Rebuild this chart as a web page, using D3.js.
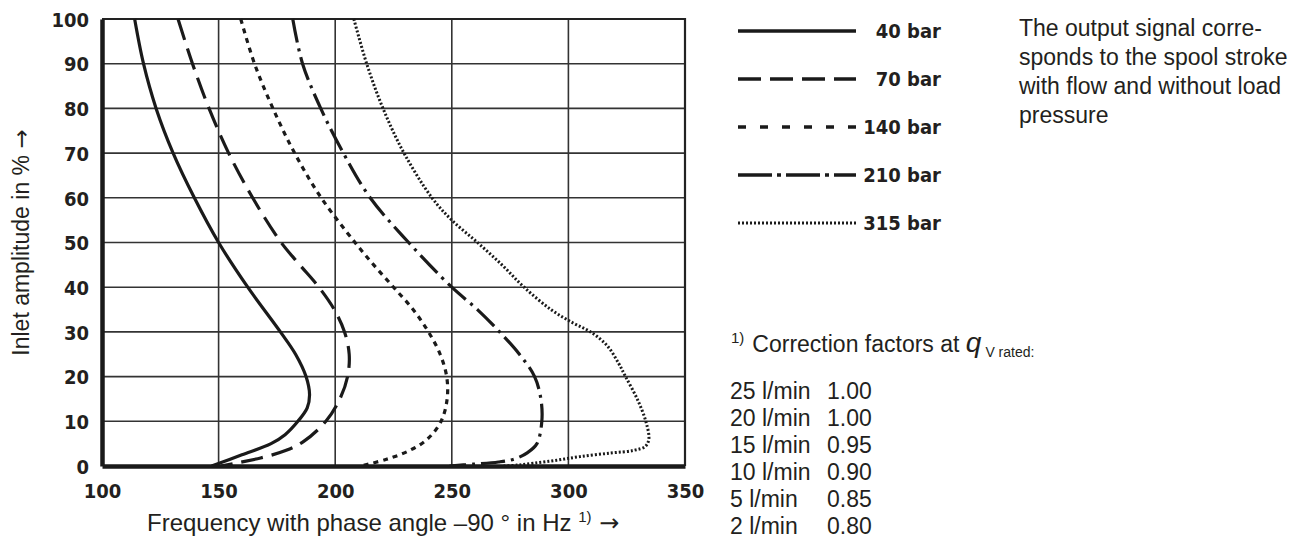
<!DOCTYPE html>
<html>
<head>
<meta charset="utf-8">
<script src="https://cdn.jsdelivr.net/npm/d3@7"></script>
<style>
  html, body { margin: 0; padding: 0; background: #fff; }
  svg { display: block; }
  .tick-lbl { font-family: "DejaVu Sans Condensed", "DejaVu Sans", sans-serif; font-weight: bold; font-stretch: condensed; font-size: 20px; fill: #231f20; }
  .txt { font-family: "Liberation Sans", Arial, Helvetica, sans-serif; font-size: 23px; fill: #231f20; }
  .arrow { font-family: "DejaVu Sans", sans-serif; }
</style>
</head>
<body>
<div id="chart"></div>
<script>
// Achsen
const xTicks = [100, 150, 200, 250, 300, 350];
const yTicks = [0, 10, 20, 30, 40, 50, 60, 70, 80, 90, 100];

// Kurven: [Frequenz Hz, Amplitude %], von oben nach unten
const seriesNames = ["40 bar", "70 bar", "140 bar", "210 bar", "315 bar"];

const bar40 = [
    [114, 100], [117.8, 90], [123.2, 80], [130.5, 70], [139.6, 60], [150, 50],
    [162.5, 40], [176.5, 30], [183, 25], [187.5, 20], [189, 16], [188, 13],
    [184, 10], [178.5, 7], [172.5, 5], [160, 2.5], [147, 0]
];
const bar70 = [
    [132.6, 100], [138.8, 90], [145.9, 80], [154.3, 70], [164.6, 60], [176.8, 50],
    [184.8, 45], [193, 40], [199.6, 35], [204, 30], [206, 25], [205.3, 20],
    [202, 15], [196, 10], [186.5, 5.5], [179, 3.5], [168, 1.8], [158, 0.7], [151, 0]
];
const bar140 = [
    [159.5, 100], [165.4, 90], [173.3, 80], [182.6, 70], [194, 60], [208.5, 50],
    [216.5, 45], [225, 40], [233.4, 35], [240, 30], [245, 25], [247.8, 20],
    [248, 15], [245.4, 10], [239.5, 6], [232, 3.5], [222, 1.5], [211, 0]
];
const bar210 = [
    [181.8, 100], [186, 90], [193.8, 80], [203.5, 70], [215, 60], [231.5, 50],
    [250, 40], [261, 35], [270.5, 30], [279, 25], [285.5, 20], [288.2, 15],
    [288.6, 10], [286.5, 5], [282.5, 3], [277, 1.6], [270, 0.9], [259, 0.4], [249, 0]
];
const bar315 = [
    [208, 100], [213.5, 90], [220.5, 80], [229.5, 70], [241.5, 60], [250, 55],
    [261, 50], [271.5, 45], [281, 40], [292.5, 35], [302, 32], [309.5, 30],
    [316.5, 27], [321.5, 23], [324.5, 20], [329.5, 15], [333.2, 10], [334.5, 6],
    [333, 4.4], [328, 3.5], [318, 2.9], [305, 2.1], [295, 1.3], [285, 0.6],
    [278, 0.2], [272, 0]
];
const seriesData = [bar40, bar70, bar140, bar210, bar315];

// Strichmuster (Diagramm / Legende)
const plotDash = ["none", "22,9", "5,5", "24,6,3,6", "2,2"];
const legendDash = ["none", "23,9", "8,14", "34,5,4,5", "2,2"];

// Texte
const noteLines = [
    "The output signal corre-",
    "sponds to the spool stroke",
    "with flow and without load",
    "pressure"
];
const flowLabels = ["25 l/min", "20 l/min", "15 l/min", "10 l/min", "5 l/min", "2 l/min"];
const corrFactors = ["1.00", "1.00", "0.95", "0.90", "0.85", "0.80"];

const width = 1313, height = 541;
const plot = { left: 102, top: 19, right: 685, bottom: 466 };

const svg = d3.select("#chart").append("svg")
    .attr("width", width)
    .attr("height", height);

const x = d3.scaleLinear().domain([100, 350]).range([plot.left, plot.right]);
const y = d3.scaleLinear().domain([0, 100]).range([plot.bottom, plot.top]);

// Gitter
const grid = svg.append("g").attr("stroke", "#333").attr("stroke-width", 1.6);
grid.selectAll(".vg")
    .data(xTicks.slice(1, -1))
    .enter().append("line")
    .attr("x1", d => x(d)).attr("x2", d => x(d))
    .attr("y1", plot.top).attr("y2", plot.bottom);
grid.selectAll(".hg")
    .data(yTicks.slice(1, -1))
    .enter().append("line")
    .attr("x1", plot.left).attr("x2", plot.right)
    .attr("y1", d => y(d)).attr("y2", d => y(d));

// Rahmen oben / rechts
svg.append("path")
    .attr("d", `M${plot.left},${plot.top}H${plot.right}V${plot.bottom}`)
    .attr("fill", "none")
    .attr("stroke", "#222")
    .attr("stroke-width", 2.2);

// Kurven
svg.append("clipPath").attr("id", "clip")
    .append("rect")
    .attr("x", plot.left).attr("y", plot.top - 2)
    .attr("width", plot.right - plot.left).attr("height", plot.bottom - plot.top + 2);

const line = d3.line()
    .x(d => x(d[0]))
    .y(d => y(d[1]))
    .curve(d3.curveCatmullRom.alpha(0.5));

svg.append("g")
    .attr("clip-path", "url(#clip)")
    .selectAll(".curve")
    .data(seriesData)
    .enter().append("path")
    .attr("class", "curve")
    .attr("fill", "none")
    .attr("stroke", "#1a1a1a")
    .attr("stroke-width", (d, i) => i === 4 ? 3 : 3.2)
    .attr("stroke-dasharray", (d, i) => plotDash[i])
    .attr("d", line);

// Achsen (links / unten dick)
const xAxis = svg.append("g")
    .attr("transform", `translate(0,${plot.bottom})`)
    .call(d3.axisBottom(x).tickValues(xTicks).tickSize(0).tickPadding(14));
const yAxis = svg.append("g")
    .attr("transform", `translate(${plot.left},0)`)
    .call(d3.axisLeft(y).tickValues(yTicks).tickSize(0).tickPadding(13));

[xAxis, yAxis].forEach(a => {
    a.attr("font-family", null).attr("font-size", null);
    a.select(".domain").attr("stroke", "#1a1a1a").attr("stroke-width", 4.5);
    a.selectAll("text").attr("class", "tick-lbl");
});
xAxis.selectAll("text").attr("dy", "0.9em");
yAxis.selectAll("text").attr("dy", "0.36em");

// Achsentitel
const xt = svg.append("text").attr("class", "txt")
    .attr("x", 147).attr("y", 531)
    .style("font-size", "24px");
xt.append("tspan").text("Frequency with phase angle \u201390 \u00b0 in Hz ");
xt.append("tspan").attr("dy", -9).style("font-size", "15px").text("1)");
xt.append("tspan").attr("dy", 9).attr("class", "arrow").text(" \u2192");

const yt = svg.append("text").attr("class", "txt")
    .attr("transform", `translate(29,${(plot.top + plot.bottom) / 2}) rotate(-90)`)
    .attr("text-anchor", "middle");
yt.append("tspan").text("Inlet amplitude in % ");
yt.append("tspan").attr("class", "arrow").text("\u2192");

// Legende
const legend = svg.append("g");
const legRow = d3.scaleLinear().domain([0, 4]).range([31, 223]);
seriesNames.forEach((name, i) => {
    legend.append("line")
        .attr("x1", 738).attr("x2", 856)
        .attr("y1", legRow(i)).attr("y2", legRow(i))
        .attr("stroke", "#1a1a1a")
        .attr("stroke-width", i === 4 ? 3 : 3.5)
        .attr("stroke-dasharray", legendDash[i]);
    legend.append("text")
        .attr("class", "tick-lbl")
        .attr("x", 941).attr("y", legRow(i))
        .attr("dy", "0.36em")
        .attr("text-anchor", "end")
        .text(name);
});

// Hinweis rechts
svg.append("g").selectAll("text")
    .data(noteLines)
    .enter().append("text")
    .attr("class", "txt")
    .attr("x", 1019)
    .attr("y", (d, i) => 36 + i * 29)
    .text(d => d);

// Fussnote
const fn = svg.append("text").attr("class", "txt").attr("x", 731).attr("y", 352);
fn.append("tspan").attr("dy", -9).style("font-size", "15px").text("1)");
fn.append("tspan").attr("dy", 9).attr("dx", 8).text("Correction factors at ");
fn.append("tspan").style("font-style", "italic").style("font-size", "28px").text("q");
fn.append("tspan").attr("dy", 5).attr("dx", 4).style("font-size", "14px").text("V rated:");

const rowY = d3.scaleLinear().domain([0, flowLabels.length - 1]).range([399, 534]);
const table = svg.append("g");
flowLabels.forEach((lbl, i) => {
    table.append("text").attr("class", "txt").attr("x", 730).attr("y", rowY(i)).text(lbl);
    table.append("text").attr("class", "txt").attr("x", 827).attr("y", rowY(i)).text(corrFactors[i]);
});
</script>
</body>
</html>
